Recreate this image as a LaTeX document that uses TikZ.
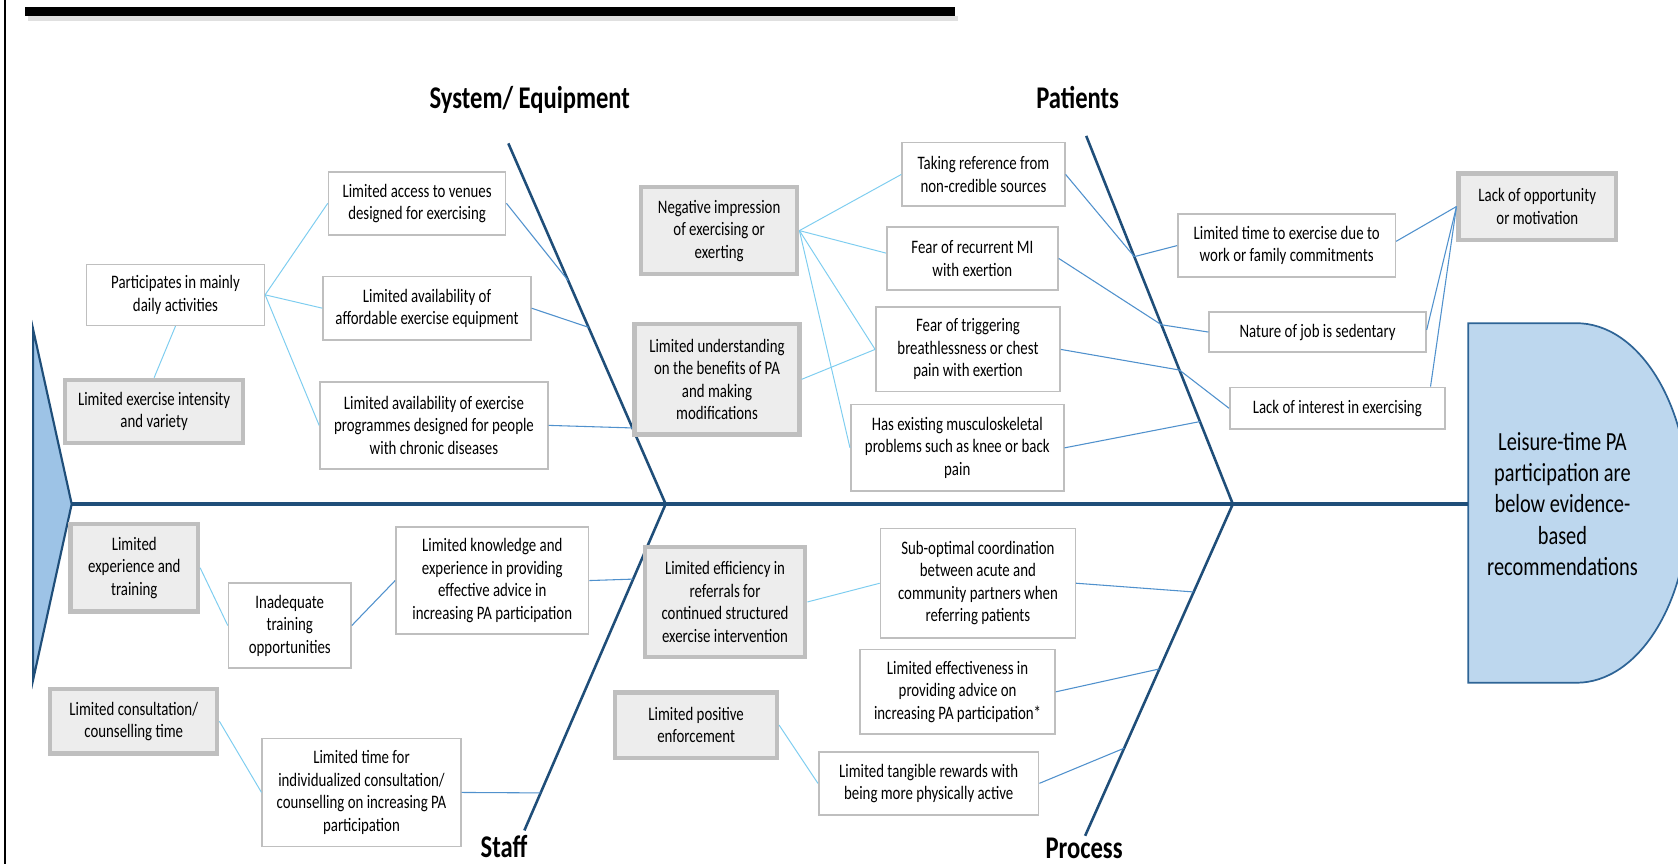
\documentclass[tikz,border=0pt]{standalone}
\usepackage{fontspec}
\setmainfont{Carlito}[FakeStretch=0.78]
\usetikzlibrary{calc}
\definecolor{bone}{RGB}{31,78,121}
\definecolor{conn}{RGB}{80,145,205}
\definecolor{lconn}{RGB}{125,205,240}
\definecolor{gboxfill}{RGB}{237,237,237}
\definecolor{gboxdraw}{RGB}{191,191,191}
\definecolor{headfill}{RGB}{189,215,238}
\definecolor{tailfill}{RGB}{157,195,230}
\definecolor{headdraw}{RGB}{46,100,150}
\begin{document}
\begin{tikzpicture}[x=0.5pt,y=-0.5pt,
  txt/.style={font=\fontsize{8.9}{10.5}\selectfont, align=center, inner sep=0pt},
  wbox/.style={txt, draw=gboxdraw, line width=0.75pt, fill=white},
  gbox/.style={txt, draw=gboxdraw, line width=2pt, fill=gboxfill},
  bonel/.style={draw=bone, line width=1.2pt},
  med/.style={draw=conn, line width=0.5pt},
  lite/.style={draw=lconn, line width=0.45pt},
  title/.style={font=\bfseries\fontsize{14.75}{17}\selectfont, anchor=base, inner sep=0pt}
]
\useasboundingbox (0,0) rectangle (1568,807);
\clip (0,0) rectangle (1568,807);
\fill[white] (0,0) rectangle (1568,807);
% frame and title bar
\draw[black, line width=1pt] (5,0) -- (5,807);
\fill[black!12] (26,15) rectangle (895,20);
\fill[black] (23,7) rectangle (892,15);

% bones
\coordinate (tailA) at (67,471);
\coordinate (headL) at (1372,471);
\coordinate (seTop) at (475,134);
\coordinate (seJ) at (622,471);
\coordinate (paTop) at (1015,127);
\coordinate (paJ) at (1152,471);
\coordinate (stBot) at (490,776);
\coordinate (prBot) at (1014,781);

\draw[fill=tailfill, draw=bone, line width=1pt] (31,308) -- (tailA) -- (31,635) -- cycle;
\draw[fill=headfill, draw=headdraw, line width=0.8pt] (1372,302) -- (1473,302) .. controls (1531,302) and (1578,377) .. (1578,470) .. controls (1578,563) and (1531,638) .. (1473,638) -- (1372,638) -- cycle;
\node[font=\fontsize{12.2}{14.5}\selectfont, align=center, inner sep=0pt] (head) at (1460,471) {Leisure-time PA\\participation are\\below evidence-\\based\\recommendations};

\draw[draw=bone, line width=1.5pt] (tailA) -- (headL);
\draw[bonel] (seTop) -- (seJ) -- (stBot);
\draw[bonel] (paTop) -- (paJ) -- (prBot);

\coordinate (S1) at ($(seTop)!0.380!(seJ)$);
\coordinate (S2) at ($(seTop)!0.510!(seJ)$);
\coordinate (S3) at ($(seTop)!0.789!(seJ)$);
\coordinate (P1) at ($(paTop)!0.328!(paJ)$);
\coordinate (P2) at ($(paTop)!0.513!(paJ)$);
\coordinate (P3) at ($(paTop)!0.636!(paJ)$);
\coordinate (P4) at ($(paTop)!0.776!(paJ)$);
\coordinate (T1) at ($(seJ)!0.230!(stBot)$);
\coordinate (T2) at ($(seJ)!0.885!(stBot)$);
\coordinate (R1) at ($(paJ)!0.265!(prBot)$);
\coordinate (R2) at ($(paJ)!0.497!(prBot)$);
\coordinate (R3) at ($(paJ)!0.736!(prBot)$);

% titles
\node[title] (tSE) at (495,101) {System/ Equipment};
\node[title] (tPat) at (1007,101) {Patients};
\node[title] (tStaff) at (471,801) {Staff};
\node[title] (tProc) at (1013,802) {Process};

% grey boxes
\node[gbox, minimum width=83pt, minimum height=29.5pt] (ge1) at (144,384.5) {Limited exercise intensity\\and variety};
\node[gbox, minimum width=73pt, minimum height=40.5pt] (gneg) at (672,215.5) {Negative impression\\of exercising or\\exerting};
\node[gbox, minimum width=77pt, minimum height=51.5pt] (gund) at (670,354.5) {Limited understanding\\on the benefits of PA\\and making\\modifications};
\node[gbox, minimum width=73.5pt, minimum height=31pt] (gopp) at (1436.5,193) {Lack of opportunity\\or motivation};
\node[gbox, minimum width=59.5pt, minimum height=41pt] (gexp) at (125.5,530.5) {Limited\\experience and\\training};
\node[gbox, minimum width=78pt, minimum height=30pt] (gcons) at (125,674) {Limited consultation/\\counselling time};
\node[gbox, minimum width=75pt, minimum height=51.5pt] (geff) at (677.5,562.5) {Limited efficiency in\\referrals for\\continued structured\\exercise intervention};
\node[gbox, minimum width=75.5pt, minimum height=30.5pt] (gpos) at (650.5,677.5) {Limited positive\\enforcement};

% white boxes
\node[wbox, minimum width=82.75pt, minimum height=29.5pt] (wacc) at (389.75,190) {Limited access to venues\\designed for exercising};
\node[wbox, minimum width=83pt, minimum height=28.5pt] (wpart) at (164,275.5) {Participates in mainly\\daily activities};
\node[wbox, minimum width=97pt, minimum height=29.5pt] (wequip) at (399,288) {Limited availability of\\affordable exercise equipment};
\node[wbox, minimum width=106.5pt, minimum height=40.5pt] (wprog) at (405.5,397.5) {Limited availability of exercise\\programmes designed for people\\with chronic diseases};
\node[wbox, minimum width=76pt, minimum height=29.75pt] (wref) at (919,163) {Taking reference from\\non-credible sources};
\node[wbox, minimum width=80pt, minimum height=29.5pt] (wmi) at (908.6,241.5) {Fear of recurrent MI\\with exertion};
\node[wbox, minimum width=86pt, minimum height=39.5pt] (wtrig) at (904.5,326.5) {Fear of triggering\\breathlessness or chest\\pain with exertion};
\node[wbox, minimum width=99.5pt, minimum height=40.5pt] (wmsk) at (894.5,418.5) {Has existing musculoskeletal\\problems such as knee or back\\pain};
\node[wbox, minimum width=101.6pt, minimum height=29.5pt] (wtime) at (1202.3,229.5) {Limited time to exercise due to\\work or family commitments};
\node[wbox, minimum width=101.2pt, minimum height=18.7pt] (wjob) at (1231.2,310.3) {Nature of job is sedentary};
\node[wbox, minimum width=100.4pt, minimum height=19.5pt] (wint) at (1249.6,381.5) {Lack of interest in exercising};
\node[wbox, minimum width=57.2pt, minimum height=39.5pt] (wtrain) at (270.8,584.5) {Inadequate\\training\\opportunities};
\node[wbox, minimum width=90pt, minimum height=50pt] (wknow) at (460,542.5) {Limited knowledge and\\experience in providing\\effective advice in\\increasing PA participation};
\node[wbox, minimum width=92.7pt, minimum height=50.5pt] (wtimefor) at (337.8,740.5) {Limited time for\\individualized consultation/\\counselling on increasing PA\\participation};
\node[wbox, minimum width=91pt, minimum height=51pt] (wsub) at (913.8,545) {Sub-optimal coordination\\between acute and\\community partners when\\referring patients};
\node[wbox, minimum width=91pt, minimum height=39.5pt] (weff) at (894.8,646.5) {Limited effectiveness in\\providing advice on\\increasing PA participation*};
\node[wbox, minimum width=102.7pt, minimum height=29.5pt] (wtang) at (867.8,732) {Limited tangible rewards with\\being more physically active};

% connectors: system/equipment
\draw[lite] (ge1.north) -- (wpart.south);
\draw[lite] (wpart.east) -- (wacc.west);
\draw[lite] (wpart.east) -- (wequip.west);
\draw[lite] (wpart.east) -- (wprog.west);
\draw[med] (wacc.east) -- (S1);
\draw[med] (wequip.east) -- (S2);
\draw[med] (wprog.east) -- (S3);
% patients
\draw[lite] (gneg.east) -- (wref.west);
\draw[lite] (gneg.east) -- ($(wmi.west)+(0,-5)$);
\draw[lite] (gneg.east) -- (wtrig.west);
\draw[lite] (gneg.east) -- (wmsk.west);
\draw[lite] (gund.east) -- (wtrig.west);
\draw[med] (wref.east) -- (P1);
\draw[med] (wtime.west) -- (P1);
\draw[med] (wmi.east) -- (P2) -- (wjob.west);
\draw[med] (wtrig.east) -- (P3) -- (wint.west);
\draw[med] (wmsk.east) -- (P4);
\draw[med] ($(wtime.east)+(0,-4)$) -- (gopp.west);
\draw[med] ($(wjob.east)+(0,-2)$) -- (gopp.west);
\draw[med] ($(wint.north east)+(-14,0)$) -- (gopp.west);
% staff
\draw[lite] (gexp.east) -- (wtrain.west);
\draw[med] (wtrain.east) -- (wknow.west);
\draw[med] (wknow.east) -- (T1);
\draw[lite] (gcons.east) -- (wtimefor.west);
\draw[med] (wtimefor.east) -- (T2);
% process
\draw[lite] (geff.east) -- (wsub.west);
\draw[med] (wsub.east) -- (R1);
\draw[med] (weff.east) -- (R2);
\draw[lite] (gpos.east) -- (wtang.west);
\draw[med] (wtang.east) -- (R3);
\end{tikzpicture}
\end{document}
